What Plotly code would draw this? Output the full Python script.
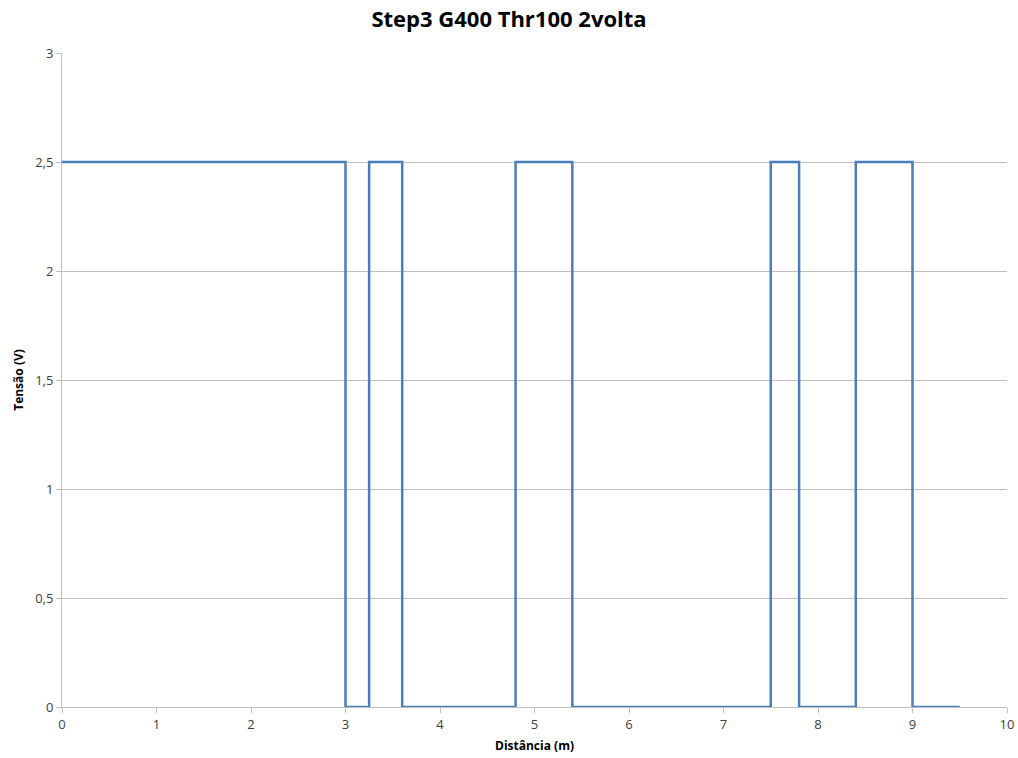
import plotly.graph_objects as go

# distance (m) where the signal changes, and the voltage from that point on
distancia = [0, 3.0, 3.25, 3.6, 4.8, 5.4, 7.5, 7.8, 8.4, 9.0, 9.5]
tensao = [2.5, 0, 2.5, 0, 2.5, 0, 2.5, 0, 2.5, 0, 0]

x_ticks = list(range(0, 11))
y_ticks = [0, 0.5, 1, 1.5, 2, 2.5, 3]

fig = go.Figure()
fig.add_trace(go.Scatter(x=distancia, y=tensao, mode='lines',
                         line=dict(color='#4A7EBB', width=2.5, shape='hv'),
                         showlegend=False))

fig.update_layout(
    width=1018, height=758,
    margin=dict(l=62, r=11, t=53, b=51),
    paper_bgcolor='white', plot_bgcolor='white',
    separators=', ',
    font=dict(family='Open Sans, Liberation Sans, sans-serif', color='#404040', size=12),
    title=dict(text='<b>Step3 G400 Thr100 2volta</b>', x=0.5, xanchor='center',
               y=0.974, yanchor='middle',
               font=dict(size=22, color='black')),
)
fig.update_xaxes(range=[0, 10], tickvals=x_ticks, showgrid=False, automargin=False,
                 showline=True, linecolor='#BFBFBF', linewidth=1,
                 ticks='outside', ticklen=5, tickcolor='#BFBFBF',
                 tickfont=dict(size=13, color='#404040'),
                 title=dict(text='<b>Distância (m)</b>', font=dict(size=12, color='black'),
                            standoff=10),
                 zeroline=False)
fig.update_yaxes(range=[0, 3], tickvals=y_ticks, showgrid=True, gridcolor='#BFBFBF',
                 automargin=False,
                 showline=True, linecolor='#BFBFBF', linewidth=1,
                 ticks='outside', ticklen=5, tickcolor='#BFBFBF',
                 tickfont=dict(size=13, color='#404040'),
                 title=dict(text='<b>Tensão (V)</b>', font=dict(size=12, color='black'),
                            standoff=8),
                 zeroline=False)

# page body has a default 8px margin; drop it so the figure fills the window
fig.write_html("out.html", config={'displayModeBar': False},
               post_script="document.body.style.margin='0';")
